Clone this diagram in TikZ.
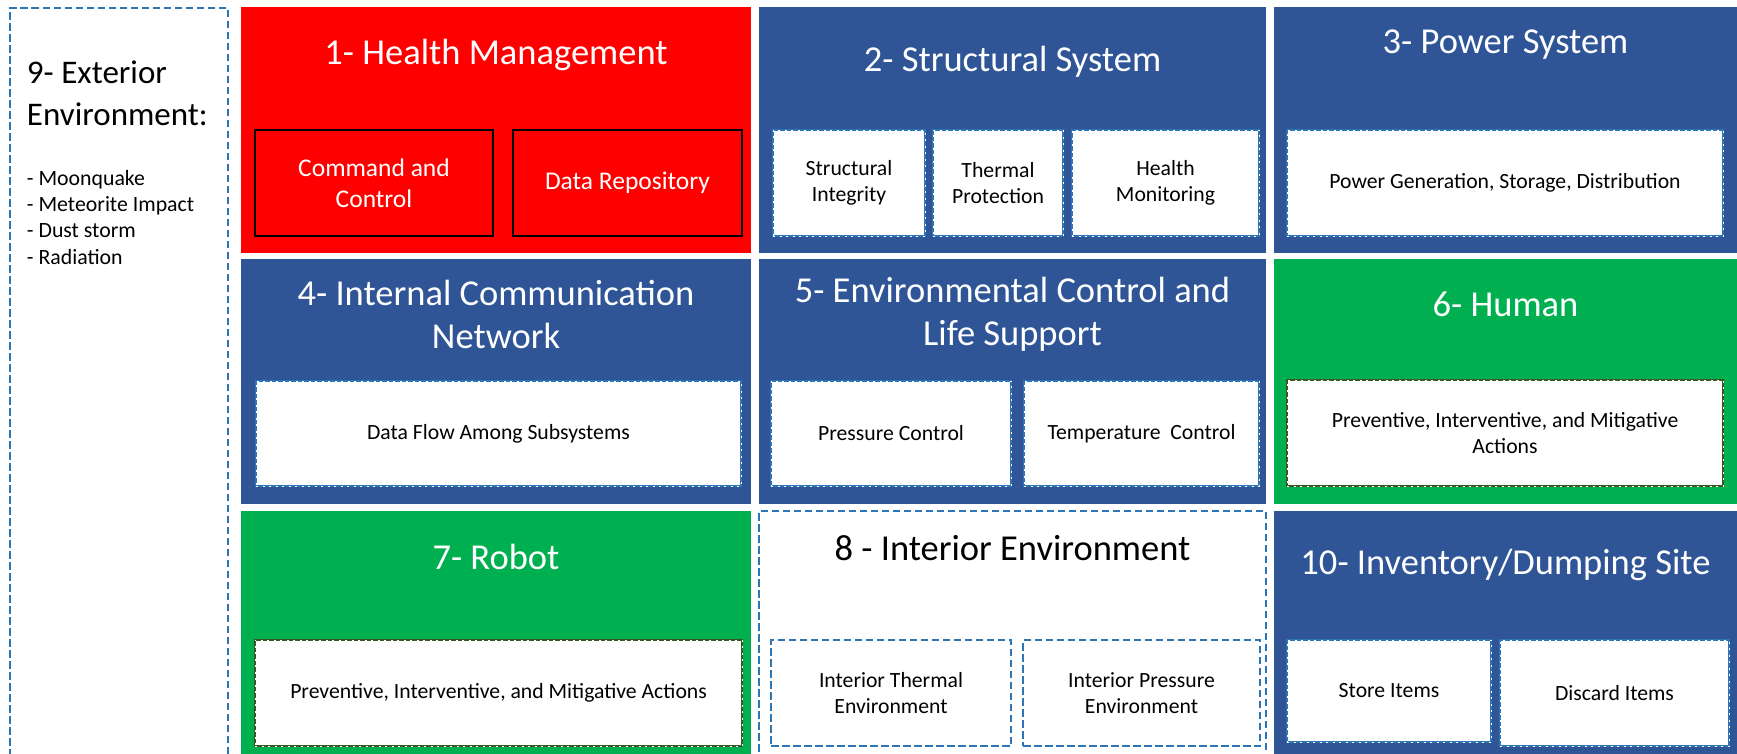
\documentclass[tikz,border=0pt]{standalone}
\usepackage{fontspec}
\setmainfont{Carlito}
\definecolor{hmred}{HTML}{FF0000}
\definecolor{sysblue}{HTML}{2F5597}
\definecolor{agentgreen}{HTML}{00B050}
\definecolor{dashblue}{HTML}{2E75B6}
\definecolor{olivedark}{HTML}{385723}
\begin{document}
\begin{tikzpicture}[x=1pt,y=-1pt,
  every node/.style={inner sep=0pt, outer sep=0pt},
  blockred/.style={rectangle, fill=hmred},
  blockblue/.style={rectangle, fill=sysblue},
  blockgreen/.style={rectangle, fill=agentgreen},
  blockopen/.style={rectangle, fill=white, draw=dashblue, line width=2.8pt, dash pattern=on 7.5pt off 3.5pt},
  title/.style={text=white, font=\fontsize{36.5}{43}\selectfont, align=center, anchor=base},
  subred/.style={rectangle, fill=hmred, draw=black, line width=2.8pt, text=white,
    font=\fontsize{25.5}{30.5}\selectfont, align=center},
  subblue/.style={rectangle, fill=white, draw=dashblue, line width=2.2pt,
    postaction={draw=white, line width=0.9pt, dash pattern=on 2pt off 4.5pt},
    font=\fontsize{21.7}{26.5}\selectfont, align=center},
  subgreen/.style={subblue, draw=olivedark},
  subopen/.style={rectangle, fill=white, draw=dashblue, line width=2.8pt, dash pattern=on 7.5pt off 3.5pt,
    font=\fontsize{21.7}{26.5}\selectfont, align=center}]
\useasboundingbox (0,0) rectangle (1737,753);
\clip (0,0) rectangle (1737,753);

% 9 - exterior environment column (base anchors sit on the last line)
\node[blockopen, minimum width=218pt, minimum height=770pt] (ext) at (119,393) {};
\node[anchor=base west, font=\fontsize{33}{42}\selectfont, align=left] (extT) at (27,125) {9- Exterior\\Environment:};
\node[anchor=base west, font=\fontsize{21.8}{26.3}\selectfont, align=left] (extL) at (27,264)
  {- Moonquake\\- Meteorite Impact\\- Dust storm\\- Radiation};

% row 1
\node[blockred, minimum width=510pt, minimum height=246pt] (hm) at (496,130) {};
\node[title] (hmT) at (496,64) {1- Health Management};
\node[subred, minimum width=238pt, minimum height=106pt] (cc) at (374,183) {Command and\\Control};
\node[subred, minimum width=229pt, minimum height=106pt] (dr) at (627.5,183) {Data Repository};

\node[blockblue, minimum width=507pt, minimum height=246pt] (ss) at (1012.5,130) {};
\node[title] (ssT) at (1012.5,71) {2- Structural System};
\node[subblue, minimum width=152pt, minimum height=106pt] (si) at (849,183) {Structural\\Integrity};
\node[subblue, minimum width=130pt, minimum height=106pt] (tp) at (998,183) {Thermal\\Protection};
\node[subblue, minimum width=187pt, minimum height=106pt] (hmo) at (1165.5,183) {Health\\Monitoring};

\node[blockblue, minimum width=471pt, minimum height=246pt] (ps) at (1509.5,130) {};
\node[title] (psT) at (1505.5,53) {3- Power System};
\node[subblue, minimum width=436pt, minimum height=106pt] (pg) at (1505,183) {Power Generation, Storage, Distribution};

% row 2
\node[blockblue, minimum width=510pt, minimum height=245pt] (icn) at (496,381.5) {};
\node[title] (icnT) at (496,348) {4- Internal Communication\\Network};
\node[subblue, minimum width=485pt, minimum height=105pt] (df) at (498.5,433.5) {Data Flow Among Subsystems};

\node[blockblue, minimum width=507pt, minimum height=245pt] (ec) at (1012.5,381.5) {};
\node[title] (ecT) at (1012.5,345) {5- Environmental Control and\\Life Support};
\node[subblue, minimum width=240pt, minimum height=105pt] (pc) at (891,433.5) {Pressure Control};
\node[subblue, minimum width=235pt, minimum height=105pt] (tc) at (1141.5,433.5) {Temperature\ \ Control};

\node[blockgreen, minimum width=471pt, minimum height=245pt] (hu) at (1509.5,381.5) {};
\node[title] (huT) at (1505.5,316) {6- Human};
\node[subgreen, minimum width=436pt, minimum height=106pt] (hua) at (1505,433) {Preventive, Interventive, and Mitigative\\Actions};

% row 3
\node[blockgreen, minimum width=510pt, minimum height=260pt] (ro) at (496,641) {};
\node[title] (roT) at (496,569) {7- Robot};
\node[subgreen, minimum width=487pt, minimum height=106pt] (roa) at (498.5,693) {Preventive, Interventive, and Mitigative Actions};

\node[blockopen, minimum width=507pt, minimum height=260pt] (ie) at (1012.5,641) {};
\node[title, text=black] (ieT) at (1012.5,560) {8 - Interior Environment};
\node[subopen, minimum width=240pt, minimum height=106pt] (ite) at (891,693) {Interior Thermal\\Environment};
\node[subopen, minimum width=237pt, minimum height=106pt] (ipe) at (1141.5,693) {Interior Pressure\\Environment};

\node[blockblue, minimum width=471pt, minimum height=260pt] (inv) at (1509.5,641) {};
\node[title] (invT) at (1505.5,574) {10- Inventory/Dumping Site};
\node[subblue, minimum width=204pt, minimum height=102pt] (sto) at (1389,691) {Store Items};
\node[subblue, minimum width=229pt, minimum height=106pt] (dis) at (1614.5,693) {Discard Items};
\end{tikzpicture}
\end{document}
